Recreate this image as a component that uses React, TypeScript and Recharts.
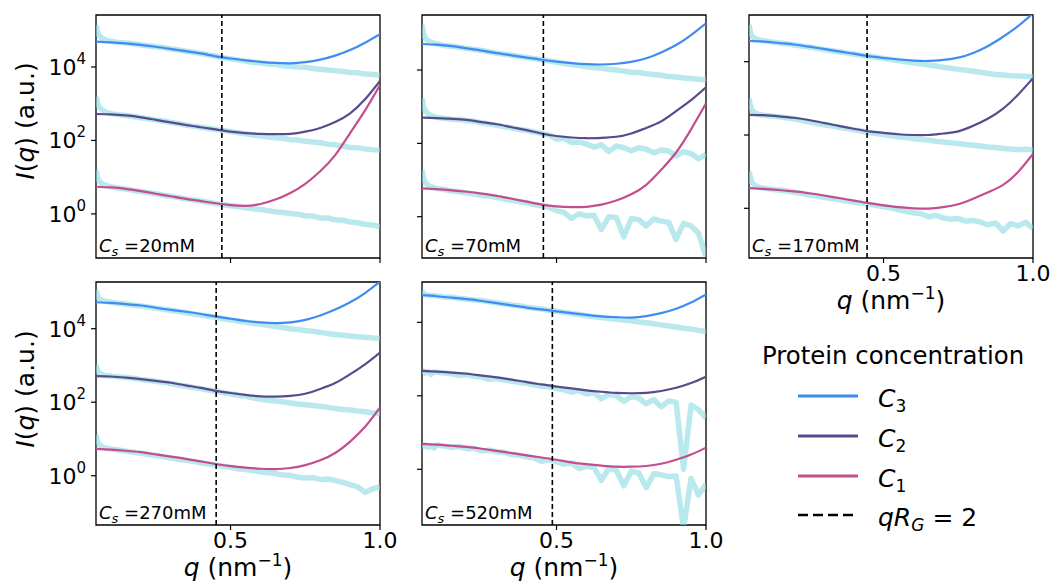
import React from "react";
import { LineChart, Line, XAxis, YAxis, ReferenceLine, ReferenceArea } from "recharts";

const FONT = "'DejaVu Sans', 'Liberation Sans', Arial, sans-serif";
const C3_COLOR = "#3f8cf2";
const C2_COLOR = "#574b8d";
const C1_COLOR = "#c24e8f";
const DATA_COLOR = "#8bd9e1";

// q (nm^-1) grids: model curves and measured profiles
const FIT_Q = [0.05, 0.1, 0.15, 0.2, 0.25, 0.3, 0.35, 0.4, 0.45, 0.5, 0.55, 0.6, 0.65, 0.7, 0.75, 0.8, 0.85, 0.9, 0.95, 1.0];
const DATA_Q = [
  0.05, 0.055, 0.06, 0.07, 0.08, 0.09, 0.1,
  0.125, 0.15, 0.175, 0.2, 0.225, 0.25, 0.275, 0.3, 0.325, 0.35,
  0.375, 0.4, 0.425, 0.45, 0.475, 0.5, 0.525, 0.55, 0.575, 0.6,
  0.625, 0.65, 0.675, 0.7, 0.725, 0.75, 0.775, 0.8, 0.825, 0.85,
  0.875, 0.9, 0.925, 0.95, 0.975, 1.0,
];

const Y_TICKS = [0, 2, 4]; // log10 I(q)
const X_TICKS = [0.5, 1.0];

// all intensities are log10 I(q)
// Cs = 20 mM
const C3_FIT_20 = [4.69, 4.67, 4.64, 4.6, 4.55, 4.49, 4.43, 4.37, 4.29, 4.23, 4.18, 4.14, 4.11, 4.1, 4.13, 4.2, 4.31, 4.46, 4.66, 4.89];
const C2_FIT_20 = [2.72, 2.71, 2.68, 2.63, 2.56, 2.49, 2.42, 2.36, 2.3, 2.24, 2.2, 2.18, 2.17, 2.18, 2.24, 2.34, 2.5, 2.74, 3.12, 3.62];
const C1_FIT_20 = [0.74, 0.72, 0.68, 0.62, 0.55, 0.48, 0.41, 0.35, 0.29, 0.24, 0.22, 0.27, 0.39, 0.57, 0.82, 1.16, 1.6, 2.2, 2.82, 3.51];
const C3_DATA_20 = [5.14, 4.95, 4.86, 4.78, 4.74, 4.71, 4.7, 4.67, 4.65, 4.63, 4.6, 4.58, 4.55, 4.53, 4.49, 4.47, 4.43, 4.4, 4.37, 4.33, 4.3, 4.25, 4.22, 4.19, 4.16, 4.13, 4.11, 4.08, 4.07, 4.03, 4.02, 4.0, 3.99, 3.96, 3.94, 3.92, 3.9, 3.88, 3.85, 3.84, 3.81, 3.8, 3.77];
const C2_DATA_20 = [3.19, 3.02, 2.92, 2.83, 2.78, 2.75, 2.73, 2.7, 2.68, 2.65, 2.62, 2.59, 2.56, 2.53, 2.49, 2.46, 2.42, 2.39, 2.36, 2.33, 2.3, 2.27, 2.24, 2.21, 2.18, 2.15, 2.12, 2.1, 2.07, 2.06, 2.02, 2.01, 1.98, 1.96, 1.94, 1.9, 1.88, 1.85, 1.81, 1.8, 1.77, 1.75, 1.74];
const C1_DATA_20 = [1.19, 1.0, 0.9, 0.82, 0.78, 0.76, 0.74, 0.7, 0.68, 0.64, 0.61, 0.58, 0.55, 0.51, 0.48, 0.45, 0.41, 0.38, 0.35, 0.32, 0.28, 0.25, 0.22, 0.2, 0.17, 0.14, 0.12, 0.09, 0.06, 0.04, 0.01, -0.01, -0.05, -0.06, -0.11, -0.11, -0.16, -0.17, -0.22, -0.24, -0.28, -0.3, -0.35];

// Cs = 70 mM
const C3_FIT_70 = [4.71, 4.69, 4.65, 4.59, 4.53, 4.46, 4.4, 4.34, 4.28, 4.23, 4.19, 4.16, 4.15, 4.17, 4.22, 4.32, 4.48, 4.68, 4.95, 5.27];
const C2_FIT_70 = [2.7, 2.69, 2.67, 2.64, 2.58, 2.52, 2.44, 2.36, 2.27, 2.2, 2.16, 2.14, 2.15, 2.18, 2.27, 2.42, 2.6, 2.88, 3.18, 3.53];
const C1_FIT_70 = [0.77, 0.75, 0.72, 0.68, 0.63, 0.57, 0.49, 0.41, 0.33, 0.28, 0.26, 0.27, 0.33, 0.44, 0.61, 0.87, 1.28, 1.75, 2.38, 3.09];
const C3_DATA_70 = [5.23, 5.0, 4.88, 4.8, 4.76, 4.73, 4.71, 4.67, 4.65, 4.62, 4.59, 4.56, 4.53, 4.49, 4.46, 4.43, 4.4, 4.37, 4.34, 4.31, 4.28, 4.25, 4.21, 4.18, 4.15, 4.12, 4.09, 4.07, 4.05, 4.02, 4.0, 3.97, 3.94, 3.93, 3.9, 3.88, 3.86, 3.82, 3.81, 3.78, 3.77, 3.75, 3.73];
const C2_DATA_70 = [3.23, 3.02, 2.9, 2.8, 2.76, 2.73, 2.71, 2.68, 2.66, 2.65, 2.62, 2.6, 2.56, 2.53, 2.49, 2.46, 2.42, 2.38, 2.35, 2.31, 2.27, 2.23, 2.12, 2.14, 2.03, 2.04, 1.98, 1.9, 1.96, 1.78, 1.93, 1.88, 1.8, 1.88, 1.84, 1.74, 1.82, 1.79, 1.66, 1.77, 1.72, 1.58, 1.7];
const C1_DATA_70 = [1.28, 1.05, 0.95, 0.86, 0.82, 0.79, 0.77, 0.74, 0.7, 0.68, 0.65, 0.62, 0.58, 0.56, 0.52, 0.48, 0.45, 0.41, 0.38, 0.33, 0.3, 0.26, 0.16, 0.12, -0.05, 0.08, 0.02, 0.04, -0.35, 0.0, -0.02, -0.55, -0.05, -0.08, -0.25, -0.06, -0.12, -0.15, -0.62, -0.18, -0.25, -0.45, -1.1];

// Cs = 170 mM
const C3_FIT_170 = [4.57, 4.55, 4.51, 4.47, 4.41, 4.35, 4.28, 4.22, 4.15, 4.1, 4.06, 4.03, 4.02, 4.05, 4.11, 4.24, 4.43, 4.68, 4.97, 5.32];
const C2_FIT_170 = [2.55, 2.54, 2.51, 2.47, 2.41, 2.33, 2.25, 2.17, 2.1, 2.06, 2.02, 2.0, 2.0, 2.04, 2.1, 2.25, 2.45, 2.72, 3.1, 3.55];
const C1_FIT_170 = [0.55, 0.53, 0.5, 0.46, 0.41, 0.35, 0.28, 0.21, 0.14, 0.08, 0.03, 0.0, -0.01, 0.03, 0.11, 0.26, 0.44, 0.64, 0.99, 1.48];
const C3_DATA_170 = [5.0, 4.8, 4.7, 4.63, 4.6, 4.58, 4.57, 4.54, 4.51, 4.49, 4.46, 4.43, 4.4, 4.37, 4.33, 4.3, 4.27, 4.24, 4.21, 4.18, 4.15, 4.12, 4.09, 4.06, 4.03, 4.0, 3.97, 3.94, 3.91, 3.88, 3.85, 3.82, 3.79, 3.77, 3.74, 3.71, 3.68, 3.65, 3.64, 3.62, 3.61, 3.6, 3.59];
const C2_DATA_170 = [3.0, 2.8, 2.68, 2.6, 2.57, 2.55, 2.54, 2.52, 2.5, 2.47, 2.44, 2.4, 2.36, 2.32, 2.28, 2.25, 2.21, 2.18, 2.14, 2.11, 2.07, 2.04, 2.01, 1.98, 1.95, 1.93, 1.9, 1.88, 1.86, 1.83, 1.81, 1.79, 1.77, 1.74, 1.72, 1.7, 1.67, 1.66, 1.63, 1.62, 1.6, 1.61, 1.59];
const C1_DATA_170 = [1.0, 0.82, 0.7, 0.62, 0.58, 0.56, 0.55, 0.52, 0.5, 0.47, 0.44, 0.41, 0.37, 0.34, 0.3, 0.27, 0.24, 0.2, 0.17, 0.14, 0.11, 0.08, 0.04, 0.01, -0.04, -0.08, -0.12, -0.15, -0.23, -0.19, -0.26, -0.3, -0.28, -0.35, -0.33, -0.38, -0.45, -0.4, -0.62, -0.42, -0.48, -0.38, -0.55];

// Cs = 270 mM
const C3_FIT_270 = [4.72, 4.7, 4.67, 4.63, 4.57, 4.51, 4.46, 4.4, 4.33, 4.27, 4.21, 4.17, 4.15, 4.17, 4.24, 4.36, 4.52, 4.72, 4.97, 5.28];
const C2_FIT_270 = [2.71, 2.7, 2.67, 2.63, 2.58, 2.53, 2.46, 2.39, 2.31, 2.25, 2.2, 2.16, 2.15, 2.17, 2.23, 2.36, 2.52, 2.76, 3.03, 3.35];
const C1_FIT_270 = [0.73, 0.71, 0.68, 0.64, 0.58, 0.52, 0.46, 0.39, 0.32, 0.26, 0.22, 0.19, 0.18, 0.21, 0.29, 0.42, 0.62, 0.93, 1.33, 1.86];
const C3_DATA_270 = [5.05, 4.9, 4.82, 4.77, 4.75, 4.73, 4.72, 4.69, 4.67, 4.64, 4.62, 4.59, 4.56, 4.53, 4.5, 4.47, 4.44, 4.4, 4.37, 4.34, 4.31, 4.27, 4.24, 4.21, 4.18, 4.15, 4.12, 4.09, 4.06, 4.03, 4.0, 3.98, 3.95, 3.93, 3.9, 3.87, 3.84, 3.82, 3.8, 3.78, 3.77, 3.75, 3.74];
const C2_DATA_270 = [3.01, 2.88, 2.8, 2.75, 2.73, 2.72, 2.71, 2.69, 2.67, 2.65, 2.62, 2.6, 2.57, 2.54, 2.51, 2.47, 2.44, 2.4, 2.37, 2.33, 2.3, 2.26, 2.23, 2.19, 2.16, 2.12, 2.08, 2.05, 2.03, 2.01, 1.98, 1.95, 1.93, 1.91, 1.89, 1.86, 1.83, 1.8, 1.79, 1.76, 1.74, 1.71, 1.69];
const C1_DATA_270 = [1.11, 0.95, 0.86, 0.79, 0.76, 0.74, 0.73, 0.7, 0.67, 0.64, 0.61, 0.58, 0.55, 0.52, 0.48, 0.45, 0.42, 0.39, 0.35, 0.32, 0.29, 0.26, 0.23, 0.19, 0.17, 0.14, 0.11, 0.08, 0.06, 0.02, 0.01, -0.04, -0.06, -0.05, -0.1, -0.09, -0.13, -0.18, -0.24, -0.3, -0.45, -0.36, -0.3];

// Cs = 520 mM
const C3_FIT_520 = [4.74, 4.71, 4.67, 4.63, 4.58, 4.52, 4.46, 4.4, 4.35, 4.3, 4.25, 4.2, 4.16, 4.14, 4.13, 4.17, 4.25, 4.37, 4.54, 4.76];
const C2_FIT_520 = [2.68, 2.66, 2.63, 2.6, 2.55, 2.5, 2.44, 2.37, 2.31, 2.25, 2.2, 2.15, 2.11, 2.08, 2.07, 2.08, 2.13, 2.22, 2.35, 2.52];
const C1_FIT_520 = [0.69, 0.67, 0.64, 0.61, 0.56, 0.5, 0.44, 0.38, 0.32, 0.26, 0.19, 0.14, 0.1, 0.07, 0.07, 0.09, 0.15, 0.26, 0.4, 0.59];
const C3_DATA_520 = [4.86, 4.78, 4.76, 4.74, 4.73, 4.72, 4.72, 4.69, 4.68, 4.65, 4.63, 4.61, 4.59, 4.56, 4.53, 4.5, 4.47, 4.45, 4.41, 4.39, 4.36, 4.33, 4.3, 4.27, 4.24, 4.21, 4.18, 4.15, 4.13, 4.1, 4.08, 4.06, 4.04, 4.01, 3.99, 3.96, 3.93, 3.9, 3.87, 3.84, 3.82, 3.78, 3.75];
const C2_DATA_520 = [2.7, 2.66, 2.62, 2.66, 2.58, 2.65, 2.64, 2.62, 2.6, 2.55, 2.58, 2.53, 2.51, 2.45, 2.47, 2.43, 2.4, 2.36, 2.34, 2.3, 2.26, 2.24, 2.2, 2.16, 2.1, 2.14, 2.05, 2.08, 1.92, 2.04, 2.0, 1.85, 1.98, 1.94, 1.78, 1.9, 1.7, 1.86, 1.82, 0.0, 1.75, 1.62, 1.4];
const C1_DATA_520 = [0.66, 0.62, 0.66, 0.6, 0.64, 0.58, 0.66, 0.63, 0.6, 0.62, 0.56, 0.57, 0.5, 0.52, 0.48, 0.46, 0.4, 0.38, 0.34, 0.31, 0.22, 0.26, 0.2, 0.14, 0.17, 0.02, 0.08, 0.05, -0.3, 0.02, -0.02, -0.45, -0.05, -0.1, -0.5, -0.12, -0.15, -0.2, -0.18, -1.6, -0.25, -0.7, -0.4];

const SALT = ["20mM", "70mM", "170mM", "270mM", "520mM"];
const QRG2 = [0.471, 0.456, 0.445, 0.452, 0.486]; // q where qR_G = 2
const Y_MIN = [-1.2, -1.126, -1.356, -1.34, -1.516];
const Y_MAX = [5.415, 5.5, 5.274, 5.27, 5.097];

const FITS = [
  [C3_FIT_20, C2_FIT_20, C1_FIT_20],
  [C3_FIT_70, C2_FIT_70, C1_FIT_70],
  [C3_FIT_170, C2_FIT_170, C1_FIT_170],
  [C3_FIT_270, C2_FIT_270, C1_FIT_270],
  [C3_FIT_520, C2_FIT_520, C1_FIT_520],
];
const MEASURED = [
  [C3_DATA_20, C2_DATA_20, C1_DATA_20],
  [C3_DATA_70, C2_DATA_70, C1_DATA_70],
  [C3_DATA_170, C2_DATA_170, C1_DATA_170],
  [C3_DATA_270, C2_DATA_270, C1_DATA_270],
  [C3_DATA_520, C2_DATA_520, C1_DATA_520],
];
const FIT_COLORS = [C3_COLOR, C2_COLOR, C1_COLOR];

// panel placement (plot area, page px)
const PLOT_W = 284;
const PLOT_H = 243;
const LAYOUT = [
  { left: 96, top: 15, yLabels: true, xLabels: false },
  { left: 422, top: 15, yLabels: false, xLabels: false },
  { left: 749, top: 15, yLabels: false, xLabels: true },
  { left: 96, top: 282, yLabels: true, xLabels: true },
  { left: 422, top: 282, yLabels: false, xLabels: true },
];
const Y_AXIS_W = 60;
const X_AXIS_H = 40;
const M_TOP = 2;
const M_RIGHT = 24;

const rows = (qs: number[], vs: number[]) => qs.map((q, i) => ({ q, v: vs[i] }));

const NoTick = () => <g />;

function PowTick(props: any) {
  const { x, y, payload } = props;
  return (
    <text x={x - 3} y={y} dy={8} textAnchor="end" fontFamily={FONT} fontSize={22} fill="#000">
      10<tspan fontSize={15} dy={-11}>{payload.value}</tspan>
    </text>
  );
}

function QTick(props: any) {
  const { x, y, payload } = props;
  return (
    <text x={x} y={y} dy={16} textAnchor="middle" fontFamily={FONT} fontSize={22} fill="#000">
      {Number(payload.value).toFixed(1)}
    </text>
  );
}

function Panel({ idx }: { idx: number }) {
  const lay = LAYOUT[idx];
  const lo = Y_MIN[idx];
  const hi = Y_MAX[idx];
  return (
    <div style={{ position: "absolute", left: lay.left - Y_AXIS_W, top: lay.top - M_TOP }}>
      <LineChart
        width={Y_AXIS_W + PLOT_W + M_RIGHT}
        height={M_TOP + PLOT_H + X_AXIS_H}
        margin={{ top: M_TOP, right: M_RIGHT, bottom: 0, left: 0 }}
      >
        <XAxis
          type="number"
          dataKey="q"
          domain={[0.05, 1]}
          ticks={X_TICKS}
          allowDataOverflow
          interval={0}
          height={X_AXIS_H}
          axisLine={false}
          tickSize={5}
          tickLine={{ stroke: "#000", strokeWidth: 1.2 }}
          tick={lay.xLabels ? QTick : NoTick}
        />
        <YAxis
          type="number"
          domain={[lo, hi]}
          ticks={Y_TICKS}
          allowDataOverflow
          interval={0}
          width={Y_AXIS_W}
          axisLine={false}
          tickSize={5}
          tickLine={{ stroke: "#000", strokeWidth: 1.2 }}
          tick={lay.yLabels ? PowTick : NoTick}
        />
        {MEASURED[idx].map((vals, k) => (
          <Line
            key={"d" + k}
            data={rows(DATA_Q, vals)}
            dataKey="v"
            type="linear"
            stroke={DATA_COLOR}
            strokeOpacity={0.6}
            strokeWidth={5.5}
            strokeLinejoin="round"
            dot={false}
            activeDot={false}
            isAnimationActive={false}
          />
        ))}
        {FITS[idx].map((vals, k) => (
          <Line
            key={"f" + k}
            data={rows(FIT_Q, vals)}
            dataKey="v"
            type="natural"
            stroke={FIT_COLORS[k]}
            strokeWidth={2.2}
            dot={false}
            activeDot={false}
            isAnimationActive={false}
          />
        ))}
        <ReferenceLine x={QRG2[idx]} stroke="#000" strokeWidth={1.6} strokeDasharray="5 3" />
        <ReferenceArea
          x1={0.05}
          x2={1}
          y1={lo}
          y2={hi}
          fill="none"
          stroke="#000"
          strokeWidth={1.3}
          ifOverflow="visible"
        />
      </LineChart>
    </div>
  );
}

function YLabel({ cy }: { cy: number }) {
  return (
    <text transform={`translate(34,${cy}) rotate(-90)`} textAnchor="middle" fontSize={25}>
      <tspan fontStyle="italic">I</tspan>(<tspan fontStyle="italic">q</tspan>) (a.u.)
    </text>
  );
}

function QLabel({ cx, y }: { cx: number; y: number }) {
  return (
    <text x={cx} y={y} textAnchor="middle" fontSize={25}>
      <tspan fontStyle="italic">q</tspan> (nm<tspan fontSize={17} dy={-10}>−1</tspan>
      <tspan dy={10}>)</tspan>
    </text>
  );
}

const LEGEND = [
  { color: C3_COLOR, sub: "3" },
  { color: C2_COLOR, sub: "2" },
  { color: C1_COLOR, sub: "1" },
];

export default function App() {
  return (
    <div style={{ position: "absolute", left: 0, top: 0, width: 1055, height: 584, background: "#fff", fontFamily: FONT }}>
      {LAYOUT.map((_, i) => (
        <Panel key={i} idx={i} />
      ))}
      <svg
        width={1055}
        height={584}
        style={{ position: "absolute", left: 0, top: 0, pointerEvents: "none" }}
        fontFamily={FONT}
        fill="#000"
      >
        <YLabel cy={121} />
        <YLabel cy={389} />
        <QLabel cx={891} y={309} />
        <QLabel cx={238} y={576} />
        <QLabel cx={564} y={576} />
        {LAYOUT.map((lay, i) => (
          <text key={i} x={lay.left + 3} y={lay.top + PLOT_H - 6} fontSize={18}>
            <tspan fontStyle="italic">C</tspan>
            <tspan fontStyle="italic" fontSize={13} dy={4}>s</tspan>
            <tspan dy={-4}> ={SALT[i]}</tspan>
          </text>
        ))}
        <text x={762} y={364} fontSize={24.4}>Protein concentration</text>
        {LEGEND.map((it, i) => (
          <g key={i}>
            <line x1={798} x2={858} y1={396 + i * 40} y2={396 + i * 40} stroke={it.color} strokeWidth={3} />
            <text x={878} y={407 + i * 40} fontSize={25}>
              <tspan fontStyle="italic">C</tspan>
              <tspan fontSize={17} dy={5}>{it.sub}</tspan>
            </text>
          </g>
        ))}
        <line x1={798} x2={858} y1={515} y2={515} stroke="#000" strokeWidth={2.5} strokeDasharray="10 5" />
        <text x={878} y={526} fontSize={25}>
          <tspan fontStyle="italic">qR</tspan>
          <tspan fontStyle="italic" fontSize={17} dy={5}>G</tspan>
          <tspan dy={-5}> = 2</tspan>
        </text>
      </svg>
    </div>
  );
}
